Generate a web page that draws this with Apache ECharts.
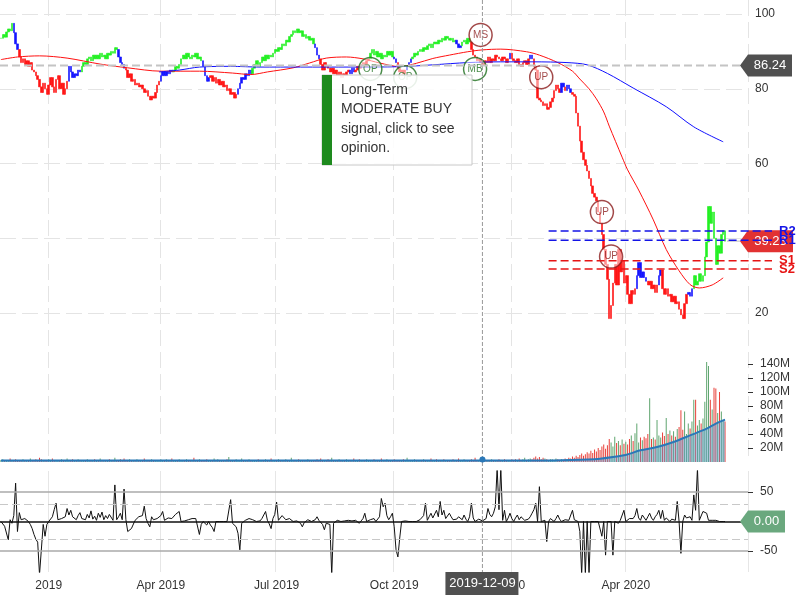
<!DOCTYPE html>
<html><head><meta charset="utf-8">
<script src="https://cdn.jsdelivr.net/npm/echarts@6/dist/echarts.min.js"></script>
<style>html,body{margin:0;padding:0;background:#fff}#c{width:800px;height:600px}</style>
</head><body><div id="c"></div>
<script>
// ---------------- DATA ----------------
const startDate = '2018-11-21';
const holidays = ['2018-11-22','2018-12-05','2018-12-25','2019-01-01','2019-01-21','2019-02-18','2019-04-19','2019-05-27','2019-07-04','2019-09-02','2019-11-28','2019-12-25','2020-01-01','2020-01-20','2020-02-17','2020-04-10','2020-05-25','2020-07-03'];
const categoryCount = 407;

const close = [
93.5,94.5,93.8,95.2,96.0,95.5,97.5,95.0,92.0,90.5,
88.5,87.0,88.0,86.5,87.5,86.0,87.0,85.0,84.5,83.5,
82.5,80.5,79.0,81.5,80.0,78.5,81.0,83.0,80.5,79.0,
82.5,83.5,80.0,81.5,78.5,80.0,82.0,86.0,84.5,83.0,
84.0,83.5,85.0,84.5,86.0,87.0,86.5,88.0,88.5,87.5,
89.0,88.0,89.0,88.0,89.5,88.5,89.0,88.0,89.5,89.0,
90.0,89.5,91.0,90.5,88.5,87.0,86.5,85.5,85.0,83.0,
84.0,82.0,82.5,81.0,81.5,80.5,81.0,80.0,79.0,79.5,
78.0,77.0,78.0,77.5,79.0,81.0,82.0,83.5,84.5,83.5,
84.5,84.0,85.0,84.5,85.0,86.0,85.5,86.5,88.0,89.0,
88.0,89.5,88.5,88.0,89.0,88.5,89.5,88.0,88.5,87.5,
86.0,83.5,82.0,83.0,83.5,82.0,83.0,81.5,82.5,81.0,
82.0,80.5,81.0,79.5,80.0,78.5,79.0,77.5,78.5,80.0,
81.5,83.0,82.5,84.0,83.5,85.0,84.0,85.5,86.5,87.5,
86.0,87.0,88.5,87.5,89.0,88.0,89.0,88.5,89.5,90.5,
90.0,91.0,90.5,92.0,91.5,93.0,92.5,94.0,94.5,95.5,
95.0,96.0,95.0,95.5,94.0,94.5,93.5,94.0,93.0,93.5,
92.0,91.0,89.0,88.0,86.5,85.0,87.0,86.0,85.5,84.5,
85.5,84.0,85.0,83.5,84.5,83.0,84.0,83.5,84.5,85.0,
84.0,85.5,84.5,85.0,86.0,85.5,86.5,87.0,86.0,87.5,
88.0,89.5,90.5,89.0,90.0,88.5,89.5,88.0,89.0,88.5,
90.0,89.0,90.0,88.5,88.0,87.0,85.5,84.5,85.0,84.0,
85.0,86.0,87.0,88.0,88.5,89.5,89.0,90.0,90.5,90.0,
91.0,90.5,91.5,92.0,91.0,92.0,92.5,92.0,93.0,92.5,
93.5,93.0,94.0,93.5,93.0,93.5,92.5,93.0,92.0,91.0,
91.5,92.5,93.0,92.0,93.5,92.5,90.5,89.0,88.5,87.5,
88.0,87.0,86.24,87.5,87.0,88.5,87.0,88.0,87.5,89.0,
88.5,88.0,87.5,88.5,88.0,87.0,88.0,89.5,88.0,87.5,
87.0,88.0,86.5,86.0,87.0,87.5,86.5,88.0,89.0,88.0,
86.0,85.0,77.5,77.0,76.5,75.5,76.0,74.5,75.0,76.5,
77.5,79.5,81.0,80.0,79.0,81.5,80.5,79.5,81.0,80.0,
79.0,78.5,78.0,73.5,70.0,66.0,63.0,61.0,59.5,58.0,
56.0,54.0,52.0,51.0,50.0,47.0,44.0,41.0,37.0,33.0,
29.0,18.5,22.0,28.0,33.0,27.5,37.0,31.0,34.0,28.0,
30.0,25.0,22.5,26.0,25.0,26.5,30.0,33.5,29.5,31.0,
29.5,28.5,27.5,28.5,26.5,27.5,25.5,27.5,30.0,31.5,
26.5,25.0,26.5,24.5,25.0,23.0,24.5,22.5,23.0,21.0,
19.5,18.5,22.5,25.0,25.5,24.5,26.5,30.0,27.5,28.5,
30.5,28.5,30.0,35.0,39.0,48.5,44.0,47.0,40.0,33.0,
38.0,36.0,41.0,42.0,39.23
];

// trend colouring of the price bars: [firstIndex, lastIndex, state]
const trendSegments = [
[0,6,'up'],[7,9,'flat'],[10,36,'down'],[37,43,'flat'],[44,63,'up'],[64,67,'flat'],[68,86,'down'],
[87,93,'flat'],[94,109,'up'],[110,113,'flat'],[114,128,'down'],[129,136,'flat'],[137,170,'up'],
[171,173,'flat'],[174,189,'down'],[190,192,'flat'],[193,200,'down'],[201,213,'up'],[214,215,'flat'],
[216,220,'down'],[221,223,'flat'],[224,247,'up'],[248,250,'flat'],[251,255,'up'],[256,276,'down'],
[277,277,'flat'],[278,287,'down'],[288,289,'flat'],[290,304,'down'],[305,306,'flat'],[307,307,'down'],
[308,310,'flat'],[311,345,'down'],[346,351,'flat'],[352,357,'down'],[358,359,'flat'],[360,373,'down'],
[374,376,'flat'],[377,394,'up']
];

// volume in millions
const volume = [
3,4,2,3,3,5,2,3,4,3, 2,3,4,3,2,3,5,3,2,4, 3,6,4,3,2,3,4,3,5,3, 2,3,3,4,2,3,5,2,3,4,
3,2,4,3,3,2,3,4,2,3, 3,4,2,3,5,3,2,3,3,4, 2,3,6,3,2,4,3,5,3,2, 4,3,2,3,4,3,2,3,5,3,
3,2,4,3,2,3,3,4,2,3, 4,3,2,5,3,2,3,4,3,2, 3,4,3,2,3,6,3,2,4,3, 2,3,4,3,2,3,5,3,4,2,
3,2,3,4,7,3,2,3,4,3, 2,5,3,2,3,4,3,2,3,3, 4,3,2,3,4,2,3,5,3,2, 3,4,3,2,3,4,3,2,6,3,
2,3,4,3,2,3,3,4,2,3, 3,2,4,3,5,2,3,3,4,2, 6,3,2,3,4,3,2,3,4,3, 2,3,5,3,2,4,3,2,3,4,
3,2,3,4,3,2,3,5,3,2, 4,3,2,3,4,3,2,3,3,4, 2,6,3,2,3,4,3,2,3,3, 4,3,2,3,5,3,2,4,3,2,
3,4,3,2,3,3,4,2,3,5, 3,2,4,3,2,3,4,3,6,3, 2,3,4,3,2,3,3,4,2,3, 3,4,2,3,4,3,2,3,4,3,
4,3,5,3,4,6,3,4,5,4,
6,8,5,7,4,6,5,4,3,4, 4,3,5,4,3,4,3,5,4,6, 5,8,6,9,7,10,12,9,11,14, 12,16,13,18,15,20,17,22,25,19,
24,33,28,22,36,27,30,24,32,26, 29,25,33,38,30,41,55,28,35,31, 36,34,40,91,33,35,32,60,38,35,
42,37,63,40,45,38,44,36,47,50, 74,46,72,40,55,48,58,89,89,52, 60,55,62,86,143,137,89,75,106,105,
70,100,72,60,58
];
const volumeAvg = [[0,2],[150,2],[290,2],[310,2.8],[326,4.8],[339,9.5],[348,16.7],[357,21.4],[366,28.6],[375,38],[384,47.6],[389,54.8],[394,60.5]];

const ma50 = [[0,87.8],[9,88.5],[21,88.8],[36,88.2],[54,86.6],[69,85.6],[87,84.7],[108,84.7],[126,84.2],[136,83.8],[145,84.5],[159,85.6],[168,86.9],[177,88.2],[188,88.5],[197,88.0],[206,86.9],[217,85.9],[226,86.8],[235,88.1],[244,89.0],[254,89.9],[262,90.4],[272,90.6],[286,89.9],[293,89.0],[303,87.0],[311,84.7],[315,82.6],[320,80.0],[324,77.3],[328,73.8],[331,70.0],[338,61.7],[341,58.3],[347,52.9],[355,44.9],[362,37.0],[369,31.3],[375,27.6],[380,26.7],[387,27.5],[393,29.4]];
const ma200 = [[86,84.5],[97,85.0],[108,85.8],[125,86.0],[141,85.8],[163,85.8],[190,85.8],[217,85.9],[235,86.4],[254,87.0],[272,87.2],[290,87.2],[308,87.0],[319,86.4],[330,84.1],[344,80.2],[362,75.2],[377,69.8],[393,65.8]];

const oscillator = [
0,3,-8,-8,-31,3,-3,10,65,-17, 15,3,0,5,3,0,-5,-12,-22,-30, -35,-90,-90,-5,-25,-5,0,-3,8,20,
31,3,5,5,8,8,22,11,19,8, 11,3,10,15,5,8,3,12,6,18, 4,9,2,14,7,16,3,10,5,12,
11,2,62,3,8,14,3,55,3,-17, -20,-12,-14,2,5,8,6,10,26,5, -3,-9,8,3,0,5,5,10,17,2,
3,6,8,5,8,12,10,17,0,2, 1,0,3,2,5,3,5,2,-22,-5, 0,-3,-6,0,-6,-10,-17,0,1,0,
1,0,1,0,0,37,-3,-2,-9,-20, -48,-3,-6,2,0,5,2,3,1,0, 3,1,5,8,17,2,-4,-12,5,12,
33,2,5,10,8,3,0,5,2,0, 3,1,0,-3,-9,-2,0,3,2,0, 0,3,8,2,0,-5,-14,-3,0,-5,
-90,-3,0,2,1,0,3,1,0,2, 0,1,3,2,0,-3,1,5,14,0, 2,3,1,5,0,3,8,39,25,31,
10,3,8,14,-9,-48,-60,-28,0,0, 1,0,0,1,0,2,0,1,3,5, 10,31,2,8,14,6,3,19,8,34,
11,19,5,5,14,8,3,6,4,8, 5,3,11,4,0,8,31,6,0,2, 4,3,1,0,5,22,12,8,14,25,
90,20,90,2,19,0,6,14,5,0, 6,11,3,8,5,2,0,4,8,14, 20,31,0,59,0,0,2,-34,0,5,
8,0,5,11,4,0,2,3,1,2, 0,19,3,2,0,-17,-90,0,-90,0, -90,0,0,0,0,0,0,-25,0,-57,
0,0,0,-57,0,3,-3,2,5,19, 0,3,5,8,5,10,22,6,2,11, 11,2,8,14,6,2,8,12,19,5,
19,2,6,3,0,4,1,2,34,0, -54,0,11,6,5,8,2,45,19,90, 2,2,17,14,14,2,5,2,3,2,
0,0,0,0,0
];

const signals = [
  {i:201, v:85.3, text:'OP', kind:'buy'},
  {i:220, v:83.1, text:'OP', kind:'buy'},
  {i:258, v:85.3, text:'MB', kind:'buy'},
  {i:261, v:94.4, text:'MS', kind:'sell'},
  {i:294, v:83.1, text:'UP', kind:'sell'},
  {i:327, v:47.0, text:'UP', kind:'sell'},
  {i:332, v:35.1, text:'UP', kind:'sell'}
];
const levels = [
  {name:'R2', v:41.94, kind:'res'},
  {name:'R1', v:39.45, kind:'res'},
  {name:'S1', v:34.0, kind:'sup'},
  {name:'S2', v:31.77, kind:'sup'}
];
const levelStartIndex = 298;
const volTicks = [20,40,60,80,100,120,140];
const oscTicks = [-50,50];
const crossIndex = 262, crossValue = 86.24;
const lastPrice = 39.23, lastOsc = 0.00;
const infoLines = ['Long-Term','MODERATE BUY','signal, click to see','opinion.'];

// ---------------- BUILD ----------------
const dates = [];
{
  let t = Date.parse(startDate + 'T00:00:00Z');
  while (dates.length < categoryCount) {
    const d = new Date(t);
    const s = d.toISOString().slice(0,10);
    const w = d.getUTCDay();
    if (w !== 0 && w !== 6 && holidays.indexOf(s) < 0) dates.push(s);
    t += 86400000;
  }
}
const qStart = new Set();
for (let i = 1; i < close.length; i++) {
  const m = +dates[i].slice(5,7), pm = +dates[i-1].slice(5,7);
  if (m !== pm && (m - 1) % 3 === 0) qStart.add(i);
}
const isQ = (idx) => qStart.has(idx);
const MON = ['Jan','Feb','Mar','Apr','May','Jun','Jul','Aug','Sep','Oct','Nov','Dec'];
const fmtDate = (v) => { const y = v.slice(0,4), m = +v.slice(5,7); return m === 1 ? y : MON[m-1] + ' ' + y; };

const TREND = {up:'#22f022', down:'#ff1414', flat:'#1414ff'};
function trendColor(i){ for (const s of trendSegments) if (i >= s[0] && i <= s[1]) return TREND[s[2]]; return '#888'; }

const candles = close.map((c,i) => {
  const o = i === 0 ? c : close[i-1];
  const col = trendColor(i);
  return {value:[o, c, Math.min(o,c), Math.max(o,c)], itemStyle:{color:col,color0:col,borderColor:col,borderColor0:col}};
});
const volBars = volume.map((v,i) => ({value:v, itemStyle:{color: (i>0 && close[i] < close[i-1]) ? '#e8403a' : '#5fa56f'}}));
const oscData = oscillator.map((v,i) => [i, v]);
const sigData = signals.map(s => {
  const c = s.kind === 'buy' ? '#1b6e1b' : '#8b1c1c';
  return {value:[s.i, s.v], itemStyle:{color:'rgba(255,255,255,0.65)', borderColor:c, borderWidth:1.5}, label:{show:true, formatter:s.text, color:c, fontSize:10, position:'inside'}};
});

const FONT = 'Liberation Sans, Arial, Helvetica, sans-serif';
const gridL = 0, gridR = 52;

const option = {
  animation:false,
  backgroundColor:'#ffffff',
  textStyle:{fontFamily:FONT},
  grid:[
    {left:gridL, right:gridR, top:0, height:462},
    {left:gridL, right:gridR, top:14, height:299},
    {left:gridL, right:gridR, top:350, height:112},
    {left:gridL, right:gridR, top:471, height:101}
  ],
  xAxis:[
    {gridIndex:0, type:'category', data:dates, axisLine:{show:false}, axisTick:{show:false}, axisLabel:{show:false},
     splitLine:{show:true, interval:isQ, lineStyle:{color:'#e4e4e4', type:[16,6], width:1}}},
    {gridIndex:1, type:'category', data:dates, show:false},
    {gridIndex:2, type:'category', data:dates, show:false},
    {gridIndex:3, type:'category', data:dates,
     axisLine:{show:true, lineStyle:{color:'#111', width:1.5}}, axisTick:{show:false},
     axisLabel:{interval:isQ, formatter:fmtDate, color:'#333', fontSize:12, margin:8},
     splitLine:{show:true, interval:isQ, lineStyle:{color:'#e6e6e6', width:1}}}
  ],
  yAxis:[
    {gridIndex:0, type:'value', show:false, min:0, max:1},
    {gridIndex:1, type:'value', position:'right', min:20, max:100, interval:20,
     axisLine:{show:false}, axisTick:{show:false}, axisLabel:{color:'#333', fontSize:12, margin:7},
     splitLine:{show:true, lineStyle:{color:'#e4e4e4', type:[16,6], width:1}}},
    {gridIndex:2, type:'value', position:'right', min:0, max:160, interval:20,
     axisLine:{show:false}, axisTick:{show:true, length:5, customValues:volTicks, lineStyle:{color:'#333'}},
     axisLabel:{customValues:volTicks, formatter:(v)=>v+'M', color:'#333', fontSize:12, margin:12},
     splitLine:{show:false}},
    {gridIndex:3, type:'value', position:'right', min:-85.6, max:85.6,
     axisLine:{show:false}, axisTick:{show:true, length:5, customValues:oscTicks, lineStyle:{color:'#333'}},
     axisLabel:{customValues:oscTicks, color:'#333', fontSize:12, margin:12},
     splitLine:{show:false}}
  ],
  series:[
    {type:'candlestick', xAxisIndex:1, yAxisIndex:1, data:candles, barWidth:2, clip:false,
     itemStyle:{borderWidth:0.6}, z:3},
    {type:'line', xAxisIndex:1, yAxisIndex:1, data:ma50, smooth:0.3, showSymbol:false, symbol:'none', clip:false,
     lineStyle:{color:'#ff1010', width:1}, z:4},
    {type:'line', xAxisIndex:1, yAxisIndex:1, data:ma200, smooth:0.3, showSymbol:false, symbol:'none', clip:false,
     lineStyle:{color:'#1010ff', width:1}, z:4},
    {type:'scatter', xAxisIndex:1, yAxisIndex:1, data:sigData, symbol:'circle', symbolSize:23, clip:false, z:6},
    {type:'bar', xAxisIndex:2, yAxisIndex:2, data:volBars, barWidth:1, z:3},
    {type:'line', xAxisIndex:2, yAxisIndex:2, data:volumeAvg, smooth:0.3, symbol:'none', showSymbol:false,
     lineStyle:{color:'#2a78b8', width:2}, areaStyle:{color:'rgba(88,152,205,0.6)'}, z:4},
    {type:'line', xAxisIndex:3, yAxisIndex:3, data:oscData, symbol:'none', showSymbol:false,
     lineStyle:{color:'#111', width:1}, z:4,
     markLine:{silent:true, symbol:'none', label:{show:false}, animation:false,
       data:[
         {yAxis:50, lineStyle:{color:'#aaa', type:'solid', width:1.5}},
         {yAxis:-50, lineStyle:{color:'#aaa', type:'solid', width:1.5}},
         {yAxis:30, lineStyle:{color:'#c8c8c8', type:[8,4], width:1.2}},
         {yAxis:-30, lineStyle:{color:'#c8c8c8', type:[8,4], width:1.2}}
       ]}}
  ]
};

const chart = echarts.init(document.getElementById('c'), null, {renderer:'canvas'});
chart.setOption(option);

// ---------------- ANNOTATIONS (positioned through the chart's scales) ----------------
const W = 800;
const P = (g, x, y) => chart.convertToPixel({gridIndex:g}, [x, y]);
const [cx, cy] = P(1, crossIndex, crossValue);
const oscBottom = P(3, crossIndex, -85.6)[1];
const [lx, ly] = P(1, close.length - 1, lastPrice);
const oy = P(3, oscillator.length - 1, lastOsc)[1];
const volDot = P(2, crossIndex, 2);
const lvX = P(1, levelStartIndex, 40)[0];
const tagX = W - 60;

function tag(y, color, text, right){
  return [
    {type:'polygon', z:100, shape:{points:[[tagX,y],[tagX+8,y-11],[right,y-11],[right,y+11],[tagX+8,y+11]]}, style:{fill:color}},
    {type:'text', z:101, x:(tagX+8+right)/2, y:y, style:{text:text, fill:'#fff', font:'13px '+FONT, align:'center', verticalAlign:'middle'}}
  ];
}

const graphics = [];
graphics.push({type:'line', z:50, shape:{x1:cx, y1:0, x2:cx, y2:oscBottom}, style:{stroke:'#999', lineWidth:1, lineDash:[4,2]}});
graphics.push({type:'line', z:50, shape:{x1:0, y1:cy, x2:tagX, y2:cy}, style:{stroke:'#c4c4c4', lineWidth:2, lineDash:[8,4]}});
graphics.push({type:'circle', z:51, shape:{cx:volDot[0], cy:volDot[1]-1, r:3}, style:{fill:'#2a78b8'}});
graphics.push(...tag(cy, '#505050', crossValue.toFixed(2), W - 8));
graphics.push({type:'rect', z:100, shape:{x:cx-37, y:oscBottom, width:73, height:23}, style:{fill:'#505050'}});
graphics.push({type:'text', z:101, x:cx, y:oscBottom+11.5, style:{text:dates[crossIndex], fill:'#fff', font:'13px '+FONT, align:'center', verticalAlign:'middle'}});
graphics.push({type:'line', z:99, shape:{x1:lx+2, y1:ly, x2:tagX, y2:ly}, style:{stroke:'#bbb', lineWidth:1}});
graphics.push(...tag(ly, '#e23232', lastPrice.toFixed(2), W - 7));
graphics.push(...tag(oy, '#6aa87e', lastOsc.toFixed(2), W - 15));
levels.forEach(l => {
  const y = P(1, levelStartIndex, l.v)[1];
  const col = l.kind === 'res' ? '#1414e6' : '#e61414';
  graphics.push({type:'line', z:110, shape:{x1:lvX, y1:y, x2:W-28, y2:y}, style:{stroke:col, lineWidth:1.5, lineDash:[8,4]}});
  graphics.push({type:'text', z:111, x:W-21, y:y, style:{text:l.name, fill:col, font:'bold 13px '+FONT, align:'left', verticalAlign:'middle'}});
});
const bx = 322, by = 75, bw = 150, bh = 90;
graphics.push({type:'rect', z:120, shape:{x:bx, y:by, width:bw, height:bh}, style:{fill:'rgba(255,255,255,0.88)', stroke:'#c8c8c8', lineWidth:1}});
graphics.push({type:'rect', z:121, shape:{x:bx, y:by, width:10, height:bh}, style:{fill:'#1e8a1e'}});
infoLines.forEach((t,k) => {
  graphics.push({type:'text', z:122, x:bx+19, y:by+15+k*19.5, style:{text:t, fill:'#333', font:'14px '+FONT, align:'left', verticalAlign:'middle'}});
});

chart.setOption({graphic:graphics});
</script>
</body></html>
